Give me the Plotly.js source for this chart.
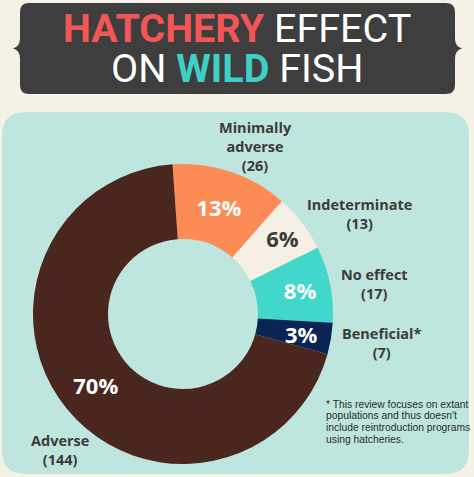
<!DOCTYPE html>
<html>
<head>
<meta charset="utf-8">
<script src="https://cdn.plot.ly/plotly-3.0.1.min.js"></script>
<style>
  html, body { margin: 0; padding: 0; background: #f6f1e6; }
  #chart { width: 474px; height: 477px; }
</style>
</head>
<body>
<div id="chart"></div>
<script>
(() => {
    "use strict";

    // data
    const categories = ["Minimally adverse", "Indeterminate", "No effect", "Beneficial*", "Adverse"];
    const labelLines = [["Minimally", "adverse"], ["Indeterminate"], ["No effect"], ["Beneficial*"], ["Adverse"]];
    const counts = [26, 13, 17, 7, 144];
    const sliceColors = ["#fd8b55", "#f6efe3", "#41d8cb", "#0b2456", "#4a271e"];
    const pctColors = ["#ffffff", "#3b3b3b", "#ffffff", "#ffffff", "#ffffff"];
    const footnote = [
        "* This review focuses on extant",
        "populations and thus doesn't",
        "include reintroduction programs",
        "using hatcheries.",
    ];

    const W = 474, H = 477;
    const px = (x) => x / W;
    const py = (y) => 1 - y / H;
    const pathOf = (cmds) => cmds.map(([c, ...pts]) => {
        let s = c;
        for (let i = 0; i < pts.length; i += 2) s += " " + px(pts[i]).toFixed(5) + "," + py(pts[i + 1]).toFixed(5);
        return s;
    }).join(" ") + " Z";

    const roundRect = (x0, y0, x1, y1, r) => pathOf([
        ["M", x0 + r, y0], ["L", x1 - r, y0], ["Q", x1, y0, x1, y0 + r],
        ["L", x1, y1 - r], ["Q", x1, y1, x1 - r, y1],
        ["L", x0 + r, y1], ["Q", x0, y1, x0, y1 - r],
        ["L", x0, y0 + r], ["Q", x0, y0, x0 + r, y0],
    ]);

    // banner with brace-shaped sides
    const bx0 = 20, bx1 = 455, by0 = 3, by1 = 94, br = 9, bm = (by0 + by1) / 2;
    const banner = pathOf([
        ["M", bx0 + br, by0], ["L", bx1 - br, by0], ["Q", bx1, by0, bx1, by0 + br],
        ["L", bx1, bm - 10], ["Q", bx1, bm - 2, bx1 + 7, bm], ["Q", bx1, bm + 2, bx1, bm + 10],
        ["L", bx1, by1 - br], ["Q", bx1, by1, bx1 - br, by1],
        ["L", bx0 + br, by1], ["Q", bx0, by1, bx0, by1 - br],
        ["L", bx0, bm + 10], ["Q", bx0, bm + 2, bx0 - 7, bm], ["Q", bx0, bm - 2, bx0, bm - 10],
        ["L", bx0, by0 + br], ["Q", bx0, by0, bx0 + br, by0],
    ]);

    // pie placement (pixels)
    const pieCx = 183, pieCy = 314, pieR = 150, rotation = -4;
    const total = counts.reduce((a, b) => a + b, 0);
    const pctText = (v) => Math.round(v / total * 100) + "%";

    const labelPos = [[255, 146], [359, 214], [374, 284], [382, 343], [60, 450]];

    const annotations = [
        {
            text: '<span style="color:#f25656"><b>HATCHERY</b></span> EFFECT',
            x: 0.5, y: py(29), xref: "paper", yref: "paper", showarrow: false,
            xanchor: "center", yanchor: "middle",
            font: { family: "Roboto, sans-serif", size: 39.5, color: "#ffffff" },
        },
        {
            text: 'ON <span style="color:#3dcfc8"><b>WILD</b></span> FISH',
            x: 0.5, y: py(68), xref: "paper", yref: "paper", showarrow: false,
            xanchor: "center", yanchor: "middle",
            font: { family: "Roboto, sans-serif", size: 39.5, color: "#ffffff" },
        },
    ];

    categories.forEach((cat, i) => {
        annotations.push({
            text: labelLines[i].concat("(" + counts[i] + ")").join("<br>"),
            x: px(labelPos[i][0]), y: py(labelPos[i][1]), xref: "paper", yref: "paper",
            showarrow: false, xanchor: "center", yanchor: "middle", align: "center",
            font: { family: "Open Sans, sans-serif", size: 14.5, color: "#3b3b3b", weight: 700 },
        });
    });

    // the thin "Beneficial" slice: plotly pushes its label to the rim, so place it
    // at the slice's mid angle (from the data) a bit further in
    const thinIdx = 3;
    const before = counts.slice(0, thinIdx).reduce((a, b) => a + b, 0);
    const midDeg = rotation + 360 * (before + counts[thinIdx] / 2) / total;
    const midRad = midDeg * Math.PI / 180;
    annotations.push({
        text: pctText(counts[thinIdx]),
        x: px(pieCx + 120 * Math.sin(midRad)), y: py(pieCy - 120 * Math.cos(midRad)),
        xref: "paper", yref: "paper", showarrow: false, xanchor: "center", yanchor: "middle",
        font: { family: "Open Sans, sans-serif", size: 22, color: pctColors[thinIdx], weight: 700 },
    });

    footnote.forEach((line, i) => {
        annotations.push({
            text: line,
            x: px(324), y: py(404 + i * 11.8), xref: "paper", yref: "paper",
            showarrow: false, xanchor: "left", yanchor: "middle", align: "left",
            font: { family: "Liberation Sans, Arial, sans-serif", size: 10.3, color: "#2a2a2a" },
        });
    });

    const trace = {
        type: "pie",
        labels: categories,
        values: counts,
        sort: false,
        direction: "clockwise",
        rotation: rotation,
        hole: 0.5,
        domain: { x: [px(pieCx - pieR), px(pieCx + pieR)], y: [py(pieCy + pieR), py(pieCy - pieR)] },
        marker: { colors: sliceColors, line: { width: 0 } },
        texttemplate: counts.map((v, i) => (i === thinIdx ? "" : "%{percent:.0%}")),
        textposition: "inside",
        insidetextorientation: "horizontal",
        textfont: { family: "Open Sans, sans-serif", size: 22, color: pctColors, weight: 700 },
        hoverinfo: "skip",
        showlegend: false,
    };

    const layout = {
        width: W,
        height: H,
        margin: { l: 0, r: 0, t: 0, b: 0 },
        paper_bgcolor: "#f6f1e6",
        showlegend: false,
        uniformtext: { minsize: 22, mode: "show" },
        shapes: [
            { type: "path", xref: "paper", yref: "paper", layer: "below", path: roundRect(2, 112, 469, 474, 24), fillcolor: "#bee6de", line: { width: 0 } },
            { type: "path", xref: "paper", yref: "paper", layer: "below", path: banner, fillcolor: "#3e3e3e", line: { width: 0 } },
        ],
        annotations,
    };

    Plotly.newPlot("chart", [trace], layout, { displayModeBar: false, staticPlot: true });
})();
</script>
</body>
</html>
